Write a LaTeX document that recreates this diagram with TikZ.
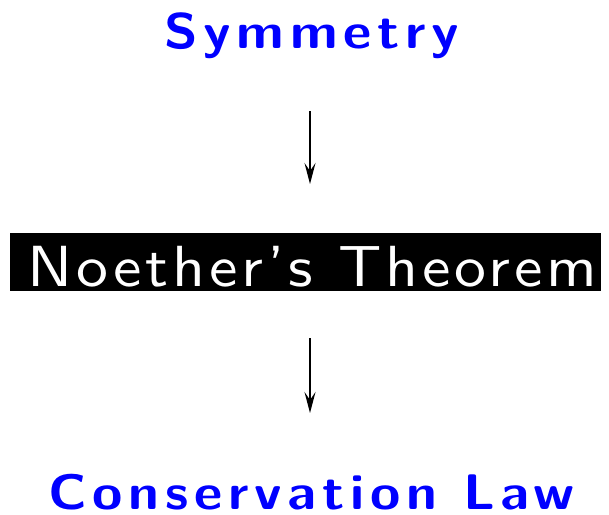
\documentclass[tikz,border=0pt]{standalone}
\usepackage{graphicx}
\usepackage{fontspec}
\setsansfont{lmsans10-regular.otf}[BoldFont=lmsans10-bold.otf]
\usetikzlibrary{arrows.meta}
\newcommand{\widen}[1]{\scalebox{1.1}[1]{#1}}
\begin{document}
\begin{tikzpicture}[x=1pt,y=-1pt,
  blue label/.style={text=blue, font=\fontsize{50}{55}\selectfont\sffamily\bfseries\addfontfeature{LetterSpace=10.5}, inner sep=0pt, anchor=base west},
  theorem text/.style={text=white, font=\fontsize{58}{62}\selectfont\sffamily\addfontfeature{LetterSpace=6}, inner sep=0pt, anchor=base west},
  link/.style={line width=1.7pt, -{Stealth[length=21pt,width=11pt,inset=8pt]}}]
\useasboundingbox (0,0) rectangle (609,514);
\node[blue label] (sym) at (164,48) {\widen{Symmetry}};
\node[fill=black, inner sep=0pt, minimum width=591pt, minimum height=58pt, anchor=north west] (box) at (10,233) {};
\node[theorem text] (noe) at (27,286) {\widen{Noether's Theorem}};
\node[blue label] (con) at (48,509) {\widen{Conservation Law}};
\coordinate (a1) at (310,111);
\coordinate (a2) at (310,184);
\coordinate (b1) at (310,338);
\coordinate (b2) at (310,413);
\draw[link] (a1) -- (a2);
\draw[link] (b1) -- (b2);
\end{tikzpicture}
\end{document}
